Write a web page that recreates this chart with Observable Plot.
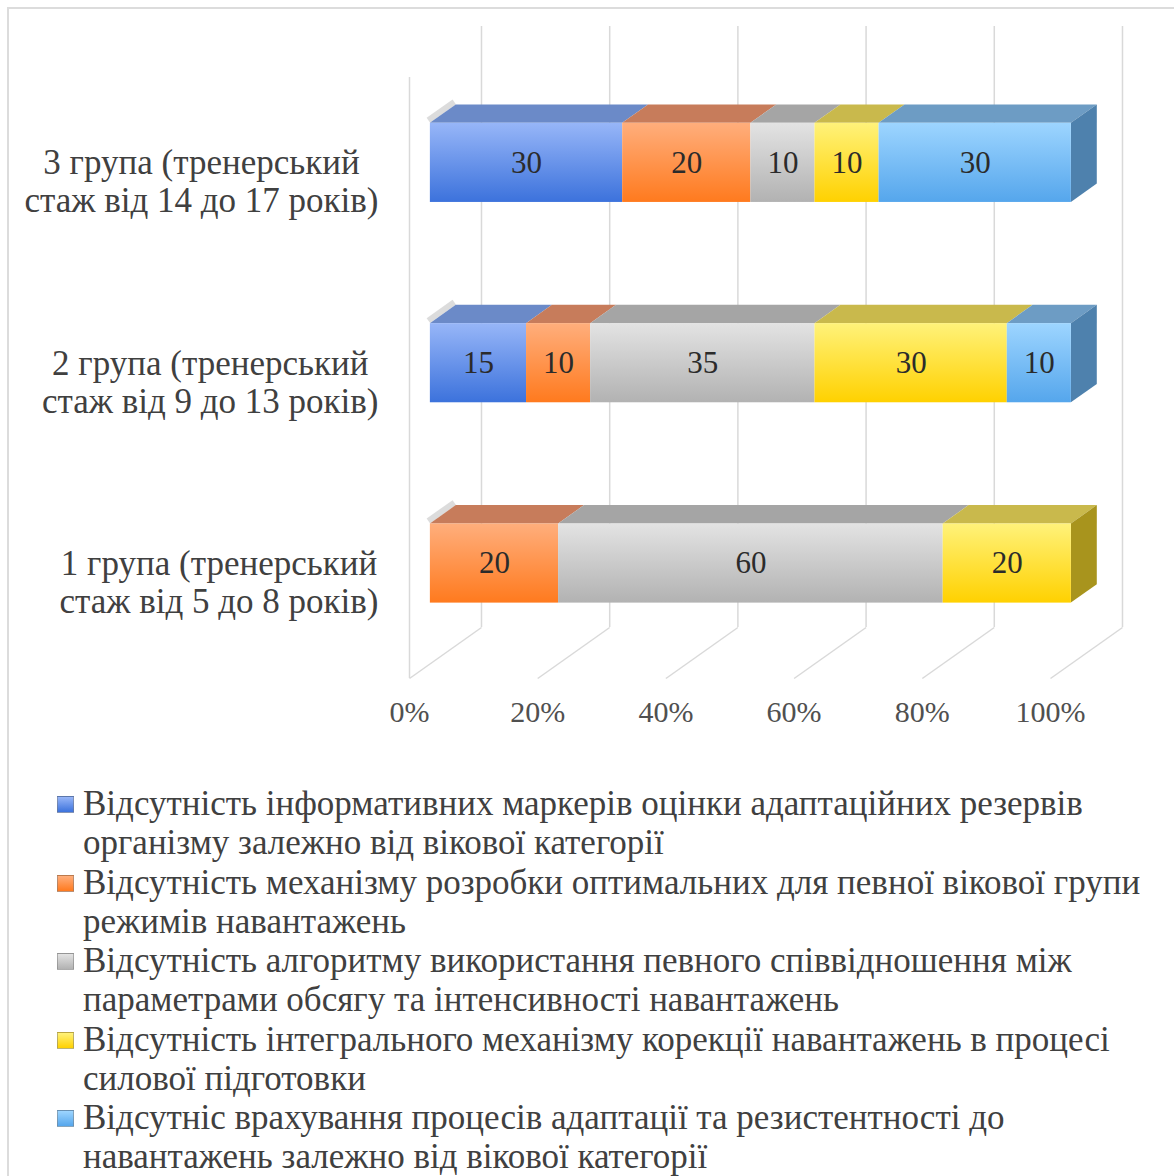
<!DOCTYPE html>
<html>
<head>
<meta charset="utf-8">
<script src="https://cdn.jsdelivr.net/npm/d3@7"></script>
<script src="https://cdn.jsdelivr.net/npm/@observablehq/plot@0.6"></script>
<style>
  html, body { margin: 0; padding: 0; background: #fff; }
  #frame { position: absolute; left: 7px; top: 7px; width: 1180px; height: 1180px;
           border-top: 2px solid #dcdcdc; border-left: 2px solid #dcdcdc; box-sizing: border-box; }
  #chart { position: absolute; left: 0; top: 0; }
  #legend { position: absolute; left: 57px; top: 784px; font-family: "Liberation Serif", "Times New Roman", serif;
            font-size: 35px; line-height: 39px; color: #404040; }
  .item { display: flex; align-items: flex-start; margin-bottom: 0.5px; }
  .mk { width: 17px; height: 17px; margin-top: 12px; margin-right: 9px; flex: none; box-sizing: border-box; border: 1px solid rgba(120,120,120,0.5); }
  .tx { white-space: nowrap; }
</style>
</head>
<body>
<div id="frame"></div>
<div id="chart"></div>
<div id="legend"></div>
<script>
// ---------- DATA ----------
const categories = [
  "1 група (тренерський\nстаж від 5 до 8 років)",
  "2 група (тренерський\nстаж від 9 до 13 років)",
  "3 група (тренерський\nстаж від 14 до 17 років)"
];
const seriesNames = [
  "Відсутність інформативних маркерів оцінки адаптаційних резервів\nорганізму залежно від вікової категорії",
  "Відсутність механізму розробки оптимальних для певної вікової групи\nрежимів навантажень",
  "Відсутність алгоритму використання певного співвідношення між\nпараметрами обсягу та інтенсивності навантажень",
  "Відсутність інтегрального механізму корекції навантажень в процесі\nсилової підготовки",
  "Відсутніс врахування процесів адаптації та резистентності до\nнавантажень залежно від вікової категорії"
];
const informMarkers    = [0, 15, 30];
const loadModes        = [20, 10, 20];
const volumeIntensity  = [60, 35, 10];
const loadCorrection   = [20, 30, 10];
const adaptationRes    = [0, 10, 30];
const tickValues = [0, 20, 40, 60, 80, 100];
const tickLabels = ["0%", "20%", "40%", "60%", "80%", "100%"];

// ---------- STYLE ----------
const seriesValues = [informMarkers, loadModes, volumeIntensity, loadCorrection, adaptationRes];
const frontTop    = ["#97b6f8", "#ffae7c", "#e3e3e3", "#fff27a", "#9dd5ff"];
const frontBottom = ["#3c72dc", "#ff7a1e", "#b2b2b2", "#ffd100", "#55a6ec"];
const topFace     = ["#6b8ac8", "#c77c5b", "#a5a5a5", "#c9b94c", "#6d9cc4"];
const sideFace    = ["#4570bb", "#c0611c", "#8f8f8f", "#a8941d", "#4e81ad"];
const FONT = '"Liberation Serif", "Times New Roman", serif';
const LABEL_SIZE = 35;

const DX = 11.23, DY = 0.2546;      // full depth in x / y data units
const dF = 0.29, dB = 0.65;        // bar front / back depth fractions
const H = 0.395;                   // bar thickness (group units)
const fx = dF * DX, fy = dF * DY, bx = dB * DX, by = dB * DY;

// build stacked segments
const segs = [];
categories.forEach((c, g) => {
  let acc = 0, last = null;
  seriesValues.forEach((arr, s) => {
    const v = arr[g];
    if (v > 0) { last = {g, s, v, x1: acc, x2: acc + v, id: g + "-" + s}; segs.push(last); }
    acc += v;
  });
  last.isLast = true;
});
const topPts = segs.flatMap(d => [
  {s: d.s, id: d.id, y: d.g + H / 2 + fy, x1: d.x1 + fx, x2: d.x2 + fx},
  {s: d.s, id: d.id, y: d.g + H / 2 + by, x1: d.x1 + bx, x2: d.x2 + bx}
]);
const sidePts = segs.filter(d => d.isLast).flatMap(d => [
  {s: d.s, id: d.id, x: d.x2 + fx, y1: d.g - H / 2 + fy, y2: d.g + H / 2 + fy},
  {s: d.s, id: d.id, x: d.x2 + bx, y1: d.g - H / 2 + by, y2: d.g + H / 2 + by}
]);

// measure text for group label blocks
const ctx = document.createElement("canvas").getContext("2d");
ctx.font = `${LABEL_SIZE}px ${FONT}`;
const blockW = categories.map(c => d3.max(c.split("\n"), l => ctx.measureText(l).width));

const marks = [];
const grid = "#d9d9d9";
// back wall verticals
marks.push(Plot.ruleX(tickValues, {x: t => t + DX, y1: -0.5 + DY, y2: 2.5 + DY, stroke: grid, strokeWidth: 1.5}));
// left wall front edge
marks.push(Plot.ruleX([0], {x: d => d, y1: -0.5, y2: 2.5, stroke: grid, strokeWidth: 1.5}));
// floor diagonals
marks.push(Plot.link(tickValues, {x1: t => t, y1: -0.5, x2: t => t + DX, y2: -0.5 + DY, stroke: grid, strokeWidth: 1.5}));
// left shadow slivers
marks.push(Plot.link(categories, {x1: fx, y1: (d, g) => g + H / 2 + fy, x2: bx, y2: (d, g) => g + H / 2 + by,
  stroke: "#9a9a9a", strokeWidth: 6, strokeOpacity: 0.35, dx: -2, dy: -3}));
// top faces & side faces
seriesValues.forEach((_, s) => {
  const tp = topPts.filter(d => d.s === s);
  if (tp.length) marks.push(Plot.areaX(tp, {x1: "x1", x2: "x2", y: "y", z: "id", fill: topFace[s], curve: "linear"}));
  const sp = sidePts.filter(d => d.s === s);
  if (sp.length) marks.push(Plot.areaY(sp, {x: "x", y1: "y1", y2: "y2", z: "id", fill: sideFace[s], curve: "linear"}));
});
// front faces
seriesValues.forEach((_, s) => {
  marks.push(Plot.rect(segs.filter(d => d.s === s), {
    x1: d => d.x1 + fx, x2: d => d.x2 + fx,
    y1: d => d.g - H / 2 + fy, y2: d => d.g + H / 2 + fy,
    fill: `url(#front${s})`
  }));
});
// value labels
marks.push(Plot.text(segs, {x: d => (d.x1 + d.x2) / 2 + fx, y: d => d.g + fy, text: d => String(d.v),
  fontSize: 31, fill: "#2b2b2b", fontFamily: FONT}));
// tick labels
marks.push(Plot.text(tickValues, {x: t => t, y: -0.5, dy: 34, text: (t, i) => tickLabels[i],
  fontSize: 30, fill: "#505050", fontFamily: FONT}));
// group labels
categories.forEach((c, g) => {
  marks.push(Plot.text([c], {x: 0, y: g, dx: -31 - blockW[g] / 2, dy: 3.5, text: d => d,
    textAnchor: "middle", lineHeight: 38 / LABEL_SIZE, fontSize: LABEL_SIZE, fill: "#404040", fontFamily: FONT}));
});

const svg = Plot.plot({
  width: 1174, height: 760, margin: 0,
  style: {background: "transparent", fontFamily: FONT},
  x: {domain: [0, 100], range: [409, 1050], axis: null},
  y: {domain: [-0.5, 2.5], range: [678, 77], axis: null},
  marks
});
// gradients
const defs = d3.create("svg:defs");
frontTop.forEach((c, s) => {
  const lg = defs.append("linearGradient").attr("id", `front${s}`).attr("x1", 0).attr("y1", 0).attr("x2", 0).attr("y2", 1);
  lg.append("stop").attr("offset", "0%").attr("stop-color", c);
  lg.append("stop").attr("offset", "100%").attr("stop-color", frontBottom[s]);
});
svg.insertBefore(defs.node(), svg.firstChild);
document.getElementById("chart").appendChild(svg);

// legend
const leg = d3.select("#legend");
seriesNames.forEach((name, s) => {
  const it = leg.append("div").attr("class", "item");
  it.append("div").attr("class", "mk")
    .style("background", `linear-gradient(to bottom, ${frontTop[s]}, ${frontBottom[s]})`);
  it.append("div").attr("class", "tx").html(name.split("\n").join("<br>"));
});
</script>
</body>
</html>
